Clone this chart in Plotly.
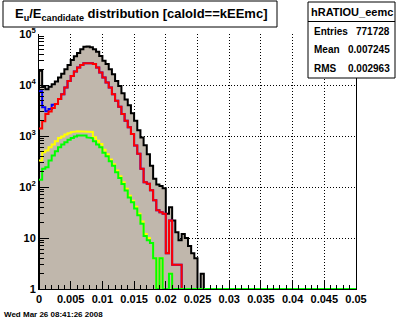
import numpy as np
import plotly.graph_objects as go

# ---------------- histogram contents (100 bins over [0, 0.05]; later bins are empty) ----------------
N_BINS = 100
X_MIN, X_MAX = 0.0, 0.05

total_counts = [19000, 9200, 8300, 9200, 10400, 11700, 14000, 16700, 20400, 24700,
                30800, 36600, 42500, 50000, 56000, 57000, 55000, 50000, 45000, 37000,
                30000, 25700, 20400, 16300, 12000, 9600, 6900, 5200, 4000, 2800,
                2000, 1300, 930, 660, 440, 260, 145, 112, 105, 95,
                30, 40, 22, 13, 9, 12, 10, 7, 5, 4,
                0, 2]
blue_counts = [7500, 3650, 3050, 3380, 4100, 4250, 5300, 6600, 8900, 12000,
               15000, 18300, 22000, 24700, 26700, 27000, 26700, 25700, 22000, 17500,
               14000, 11200, 8900, 6600, 4900, 3740, 2700, 2000, 1480, 1100,
               650, 450, 228, 124, 116, 86, 55, 35, 32, 30,
               5, 22, 3, 3, 3]
red_counts = [1400, 1950, 2700, 3030, 3530, 4250, 5300, 6600, 8900, 12000,
              15000, 18300, 22000, 24700, 26700, 27000, 26700, 25700, 22000, 17500,
              14000, 11200, 8900, 6600, 4900, 3740, 2700, 2000, 1480, 1100,
              650, 450, 228, 124, 116, 86, 55, 35, 32, 30,
              5, 22, 3, 3, 3]
yellow_counts = [330, 480, 520, 600, 680, 790, 910, 980, 1070, 1130,
                 1190, 1230, 1240, 1240, 1230, 1230, 1200, 940, 810, 700,
                 540, 440, 345, 280, 210, 162, 124, 92, 67, 54,
                 41, 30, 21, 12, 10, 8, 4, 0, 4, 0,
                 0, 2]
green_counts = [139, 228, 245, 330, 415, 505, 600, 680, 755, 840,
                910, 980, 1020, 1020, 1020, 940, 910, 790, 680, 600,
                470, 400, 320, 260, 195, 150, 115, 85, 62, 50,
                38, 28, 19, 11, 9, 8, 4, 0, 4, 0,
                0, 2]

x_tick_vals = [0, 0.005, 0.01, 0.015, 0.02, 0.025, 0.03, 0.035, 0.04, 0.045, 0.05]
x_tick_text = ["0", "0.005", "0.01", "0.015", "0.02", "0.025", "0.03", "0.035", "0.04", "0.045", "0.05"]
y_tick_vals = [1, 10, 100, 1000, 10000, 100000]
y_tick_text = ["1", "10", "10<sup>2</sup>", "10<sup>3</sup>", "10<sup>4</sup>", "10<sup>5</sup>"]

hist_name = "hRATIOU_eemc"
stat_labels = ["Entries", "Mean", "RMS"]
stat_values = ["771728", "0.007245", "0.002963"]
title_text = "E<sub>u</sub>/E<sub>candidate</sub> distribution [caloId==kEEmc]"
date_text = "Wed Mar 26 08:41:26 2008"

# ---------------- helpers ----------------
Y_FLOOR = 1.0  # empty bins sit on the bottom of the log axis, as ROOT draws them
edges = np.linspace(X_MIN, X_MAX, N_BINS + 1)


def padded(vals):
    arr = np.zeros(N_BINS)
    arr[:len(vals)] = vals
    return arr


def steps(vals):
    c = padded(vals)
    c = np.where(c > 0, c, Y_FLOOR)
    xs = np.repeat(edges, 2)[1:-1]
    ys = np.repeat(c, 2)
    return xs, ys


W, H = 396, 322
PL, PR, PT, PB = 39, 356, 34, 289


def px(x):
    return (x - PL) / (PR - PL)


def py(y):
    return (PB - y) / (PB - PT)


FONT = "Liberation Sans"
FILL = "rgb(192,183,172)"
GRID_DASH = "1px,2px"

fig = go.Figure()

# total distribution: filled histogram with black outline
xs, ys = steps(total_counts)
fig.add_trace(go.Scatter(
    x=np.concatenate([[X_MIN], xs, [X_MAX]]),
    y=np.concatenate([[Y_FLOOR], ys, [Y_FLOOR]]),
    mode="lines", fill="toself", fillcolor=FILL,
    line=dict(color="black", width=2), hoverinfo="skip", showlegend=False))

for vals, col in [(blue_counts, "#0000ff"), (red_counts, "#ff0000"),
                  (yellow_counts, "#ffff00"), (green_counts, "#00ff00")]:
    xs, ys = steps(vals)
    fig.add_trace(go.Scatter(x=xs, y=ys, mode="lines",
                             line=dict(color=col, width=2),
                             hoverinfo="skip", showlegend=False))

axis_font = dict(family=FONT, size=11, color="black", weight="bold")

fig.update_xaxes(
    range=[X_MIN, X_MAX], showline=True, linecolor="black", linewidth=1, mirror=False,
    tickmode="array", tickvals=x_tick_vals, ticktext=x_tick_text,
    ticks="inside", ticklen=8, tickcolor="black", tickwidth=1,
    minor=dict(dtick=0.001, ticks="inside", ticklen=4, tickcolor="black", showgrid=False),
    showgrid=True, gridcolor="black", griddash=GRID_DASH, gridwidth=1,
    zeroline=False, tickfont=axis_font, layer="above traces")

minor_y = [k * 10 ** d for d in range(5) for k in range(2, 10)]
fig.update_yaxes(
    type="log", range=[0, 5], showline=True, linecolor="black", linewidth=1, mirror=True,
    tickmode="array", tickvals=y_tick_vals, ticktext=y_tick_text,
    ticks="inside", ticklen=10, tickcolor="black", tickwidth=1,
    minor=dict(tickmode="array", tickvals=minor_y, ticks="inside", ticklen=5,
               tickcolor="black", showgrid=False),
    showgrid=True, gridcolor="black", griddash=GRID_DASH, gridwidth=1,
    zeroline=False, tickfont=axis_font, layer="above traces")

shapes = [
    # title box
    dict(type="rect", xref="paper", yref="paper", x0=px(3), x1=px(277), y0=py(27), y1=py(1),
         fillcolor="white", line=dict(color="black", width=1)),
    # statistics box
    dict(type="rect", xref="paper", yref="paper", x0=px(308), x1=px(395), y0=py(78), y1=py(2),
         fillcolor="white", line=dict(color="black", width=1)),
    dict(type="line", xref="paper", yref="paper", x0=px(308), x1=px(395), y0=py(21.5), y1=py(21.5),
         line=dict(color="black", width=1)),
]

annotations = [
    dict(text="<b>" + title_text + "</b>", xref="paper", yref="paper", x=px(141), y=py(14),
         xanchor="center", yanchor="middle", showarrow=False,
         font=dict(family=FONT, size=13, color="black")),
    dict(text="<b>" + hist_name + "</b>", xref="paper", yref="paper", x=px(351.5), y=py(12),
         xanchor="center", yanchor="middle", showarrow=False,
         font=dict(family=FONT, size=11, color="black")),
    dict(text="<b>" + date_text + "</b>", xref="paper", yref="paper", x=px(2), y=py(314),
         xanchor="left", yanchor="middle", showarrow=False,
         font=dict(family=FONT, size=8, color="black")),
]
for lab, val, yy in zip(stat_labels, stat_values, [31.5, 49.5, 69]):
    annotations.append(dict(text="<b>" + lab + "</b>", xref="paper", yref="paper", x=px(312), y=py(yy),
                            xanchor="left", yanchor="middle", showarrow=False,
                            font=dict(family=FONT, size=10, color="black")))
    annotations.append(dict(text="<b>" + val + "</b>", xref="paper", yref="paper", x=px(392), y=py(yy),
                            xanchor="right", yanchor="middle", showarrow=False,
                            font=dict(family=FONT, size=10, color="black")))

fig.update_layout(
    width=W, height=H,
    margin=dict(l=PL, r=W - PR, t=PT, b=H - PB, pad=0),
    paper_bgcolor="white", plot_bgcolor="white",
    shapes=shapes, annotations=annotations,
)

fig.write_html("out.html")
